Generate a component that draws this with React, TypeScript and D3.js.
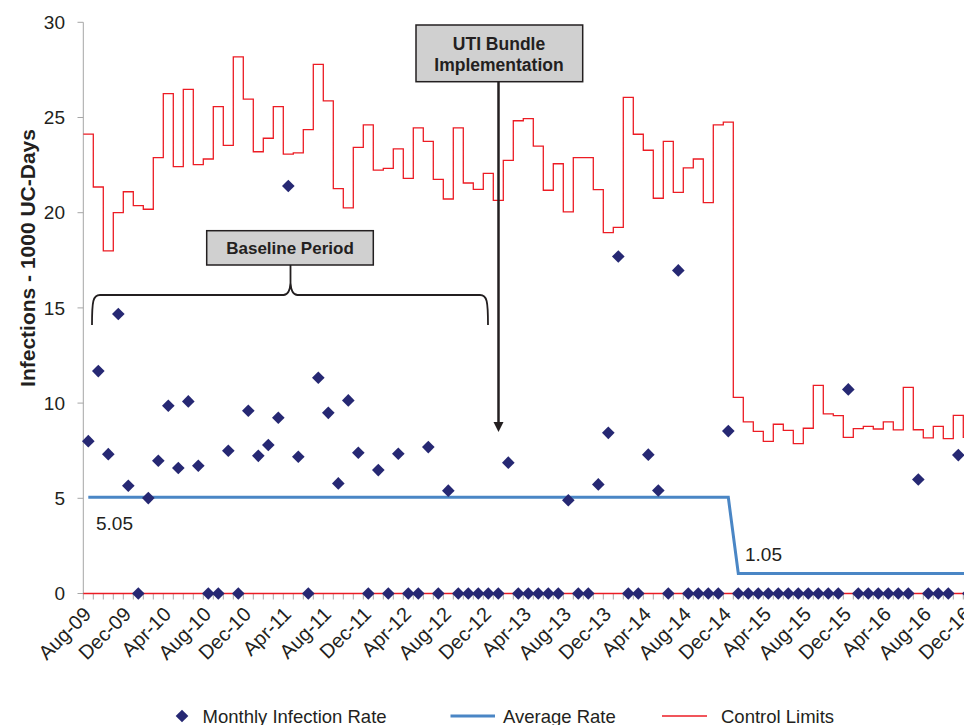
import * as d3 from "d3";

// monthly categories Aug-09 .. Dec-16
const MONTHS = d3.timeMonth
  .range(new Date(2009, 7, 1), new Date(2017, 0, 1))
  .map((d) => d3.timeFormat("%b-%y")(d));

const RATE = [
  8.0, 11.68, 7.32, 14.68, 5.66, 0, 5.01, 6.97, 9.86, 6.59, 10.09, 6.71, 0, 0, 7.5, 0,
  9.6, 7.23, 7.8, 9.23, 21.4, 7.18, 0, 11.33, 9.49, 5.78, 10.14, 7.39, 0, 6.48, 0, 7.34,
  0, 0, 7.69, 0, 5.4, 0, 0, 0, 0, 0, 6.87, 0, 0, 0, 0, 0,
  4.9, 0, 0, 5.73, 8.44, 17.7, 0, 0, 7.29, 5.41, 0, 16.97, 0, 0, 0, 0,
  8.53, 0, 0, 0, 0, 0, 0, 0, 0, 0, 0, 0, 10.72, 0, 0, 0,
  0, 0, 0, 5.99, 0, 0, 0, 7.27, 0,
];

const UCL = [
  24.13, 21.35, 17.99, 20.0, 21.1, 20.37, 20.18, 22.89, 26.25, 22.42, 26.48, 22.52, 22.82, 25.57, 23.54, 28.18,
  25.97, 23.2, 23.91, 25.57, 23.08, 23.14, 24.36, 27.79, 25.87, 21.26, 20.25, 23.43, 24.61, 22.24, 22.33, 23.35,
  21.8, 24.45, 23.75, 21.75, 20.72, 24.45, 21.56, 21.23, 22.07, 20.65, 22.75, 24.83, 24.94, 23.5, 21.18, 22.57,
  20.04, 22.89, 22.89, 21.21, 18.95, 19.23, 26.06, 24.12, 23.28, 20.76, 23.75, 21.07, 22.35, 22.82, 20.53, 24.61,
  24.76, 10.3, 9.01, 8.52, 7.99, 8.89, 8.57, 7.87, 8.68, 10.93, 9.43, 9.34, 8.2, 8.66, 8.78, 8.64,
  9.01, 8.59, 10.83, 8.6, 8.17, 8.78, 8.13, 9.36, 8.2,
];

const LCL = 0;
// baseline average through Dec-14, post-implementation after
const AVG_BASE = 5.05;
const AVG_POST = 1.05;
const AVG_SPLIT = "Dec-14";

const Y_TICKS = [0, 5, 10, 15, 20, 25, 30];
const LEGEND = ["Monthly Infection Rate", "Average Rate", "Control Limits"];

const FONT = "'Liberation Sans', Arial, sans-serif";
const INK = "#231f20";
const NAVY = "#262873";
const BLUE = "#4a86c5";
const RED = "#ec1c24";

export default function App() {
  const x = d3.scaleBand<string>().domain(MONTHS).range([83.3, 973.3]).padding(0);
  const y = d3.scaleLinear().domain([0, 30]).range([593.5, 22.3]);
  const cx = (m: string) => (x(m) ?? 0) + x.bandwidth() / 2;

  const split = MONTHS.indexOf(AVG_SPLIT);
  const avg = MONTHS.map((m, i) => (i <= split ? AVG_BASE : AVG_POST));

  const stepPts: [number, number][] = MONTHS.map((m, i) => [x(m) ?? 0, y(UCL[i])]);
  const last = MONTHS[MONTHS.length - 1];
  stepPts.push([(x(last) ?? 0) + x.bandwidth(), y(UCL[UCL.length - 1])]);
  const uclPath = d3.line().curve(d3.curveStepAfter)(stepPts) ?? "";
  const avgPath = d3.line<number>().x((_, i) => cx(MONTHS[i])).y((v) => y(v))(avg) ?? "";

  // excel-style diamond: a square turned 45deg
  const diamond = d3.symbol(d3.symbolSquare, 80)() ?? "";
  const ticksX = MONTHS.filter((_, i) => i % 4 === 0);

  const braceY = 295;
  const bL = 92, bR = 488, bC = 290.5;

  return (
    <div style={{ position: "absolute", left: 0, top: 0, width: 964, height: 725, overflow: "hidden", background: "#fff" }}>
      <svg width={990} height={725} style={{ fontFamily: FONT }}>
        {/* y axis */}
        <line x1={83.3} x2={83.3} y1={y(30)} y2={y(0)} stroke="#a6a6a6" strokeWidth={1} />
        {Y_TICKS.map((t) => (
          <g key={t}>
            <line x1={77.5} x2={83.3} y1={y(t)} y2={y(t)} stroke="#a6a6a6" />
            <text x={65} y={y(t)} dy="0.35em" textAnchor="end" fontSize={19} fill={INK}>
              {t}
            </text>
          </g>
        ))}
        <text
          transform="translate(28,258) rotate(-90)"
          textAnchor="middle"
          dy="0.35em"
          fontSize={21}
          fontWeight="bold"
          fill={INK}
        >
          Infections - 1000 UC-Days
        </text>

        {/* x axis */}
        <line x1={83.3} x2={973.3} y1={y(0)} y2={y(0)} stroke="#a6a6a6" />
        {MONTHS.map((m) => (
          <line key={m} x1={x(m)} x2={x(m)} y1={y(0)} y2={y(0) + 6} stroke="#a6a6a6" />
        ))}
        {ticksX.map((m) => (
          <text
            key={m}
            transform={`translate(${cx(m) + 4},${y(0) + 22}) rotate(-45)`}
            textAnchor="end"
            fontSize={20}
            fill={INK}
          >
            {m}
          </text>
        ))}

        {/* control limits */}
        <path d={uclPath} fill="none" stroke={RED} strokeWidth={1.3} />
        <line x1={83.3} x2={973.3} y1={y(LCL)} y2={y(LCL)} stroke={RED} strokeWidth={1.3} />

        {/* average */}
        <path d={avgPath} fill="none" stroke={BLUE} strokeWidth={3} />
        <text x={96} y={530} fontSize={19} fill={INK}>
          {AVG_BASE.toFixed(2)}
        </text>
        <text x={745} y={561} fontSize={19} fill={INK}>
          {AVG_POST.toFixed(2)}
        </text>

        {/* monthly rates */}
        {RATE.map((v, i) => (
          <path
            key={i}
            d={diamond}
            transform={`translate(${cx(MONTHS[i])},${y(v)}) rotate(45)`}
            fill={NAVY}
          />
        ))}

        {/* baseline bracket */}
        <path
          d={`M${bL},${braceY + 30} C${bL},${braceY + 6} ${bL + 1},${braceY} ${bL + 8},${braceY}
              L${bC - 7},${braceY} C${bC - 2},${braceY} ${bC - 0.5},${braceY - 5} ${bC},${braceY - 12}
              C${bC + 0.5},${braceY - 5} ${bC + 2},${braceY} ${bC + 7},${braceY}
              L${bR - 8},${braceY} C${bR - 1},${braceY} ${bR},${braceY + 6} ${bR},${braceY + 30}`}
          fill="none"
          stroke={INK}
          strokeWidth={1.8}
        />
        <line x1={bC} x2={bC} y1={265} y2={braceY - 12} stroke={INK} strokeWidth={1.8} />
        <rect x={206.7} y={230.7} width={166.6} height={34.3} fill="#d0d0d0" stroke={INK} strokeWidth={1.5} />
        <text x={290} y={248.5} dy="0.35em" textAnchor="middle" fontSize={17} fontWeight="bold" fill={INK}>
          Baseline Period
        </text>

        {/* implementation marker */}
        <line x1={498.5} x2={498.5} y1={81.7} y2={424} stroke={INK} strokeWidth={2.5} />
        <path d="M493.5,422 L503.5,422 L498.5,432 Z" fill={INK} />
        <rect x={416} y={25} width={166.7} height={56.7} fill="#d0d0d0" stroke={INK} strokeWidth={1.5} />
        <text x={499} y={49.5} textAnchor="middle" fontSize={17.5} fontWeight="bold" fill={INK}>
          UTI Bundle
        </text>
        <text x={499} y={70.5} textAnchor="middle" fontSize={17.5} fontWeight="bold" fill={INK}>
          Implementation
        </text>

        {/* legend */}
        <path d={diamond} transform="translate(182,716) rotate(45)" fill={NAVY} />
        <text x={202.5} y={722.5} fontSize={18.5} fill={INK}>
          {LEGEND[0]}
        </text>
        <line x1={450.5} x2={495} y1={716} y2={716} stroke={BLUE} strokeWidth={3} />
        <text x={503} y={722.5} fontSize={18.5} fill={INK}>
          {LEGEND[1]}
        </text>
        <line x1={662} x2={707} y1={716} y2={716} stroke={RED} strokeWidth={1.5} />
        <text x={721} y={722.5} fontSize={18.5} fill={INK}>
          {LEGEND[2]}
        </text>
      </svg>
    </div>
  );
}
